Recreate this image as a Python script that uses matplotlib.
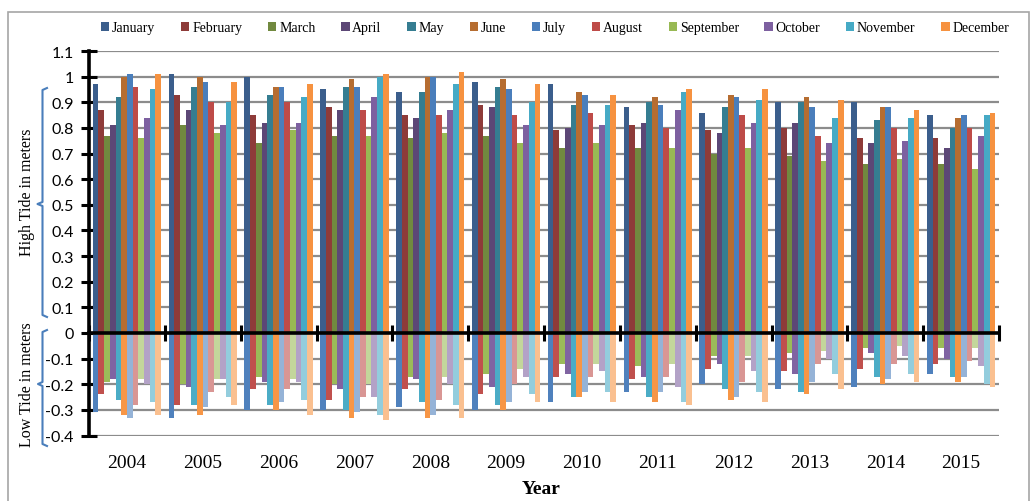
import matplotlib
matplotlib.use('Agg')
import matplotlib.pyplot as plt
import numpy as np
from matplotlib.patches import Patch, Rectangle
from matplotlib.lines import Line2D

years = [2004, 2005, 2006, 2007, 2008, 2009, 2010, 2011, 2012, 2013, 2014, 2015]
months = ['January', 'February', 'March', 'April', 'May', 'June', 'July',
          'August', 'September', 'October', 'November', 'December']

# rows = years, columns = months
high_tide = [
    [0.97, 0.87, 0.77, 0.81, 0.92, 1.00, 1.01, 0.96, 0.76, 0.84, 0.95, 1.01],
    [1.01, 0.93, 0.81, 0.87, 0.96, 1.00, 0.98, 0.90, 0.78, 0.81, 0.90, 0.98],
    [1.00, 0.85, 0.74, 0.82, 0.93, 0.96, 0.96, 0.90, 0.79, 0.82, 0.92, 0.97],
    [0.95, 0.88, 0.77, 0.87, 0.96, 0.99, 0.96, 0.87, 0.77, 0.92, 1.00, 1.01],
    [0.94, 0.85, 0.76, 0.84, 0.94, 1.00, 1.00, 0.85, 0.78, 0.87, 0.97, 1.02],
    [0.98, 0.89, 0.77, 0.88, 0.96, 0.99, 0.95, 0.85, 0.74, 0.81, 0.90, 0.97],
    [0.97, 0.79, 0.72, 0.80, 0.89, 0.94, 0.93, 0.86, 0.74, 0.81, 0.89, 0.93],
    [0.88, 0.81, 0.72, 0.82, 0.90, 0.92, 0.89, 0.80, 0.72, 0.87, 0.94, 0.95],
    [0.86, 0.79, 0.70, 0.78, 0.88, 0.93, 0.92, 0.85, 0.72, 0.82, 0.91, 0.95],
    [0.90, 0.80, 0.69, 0.82, 0.90, 0.92, 0.88, 0.77, 0.67, 0.74, 0.84, 0.91],
    [0.90, 0.76, 0.66, 0.74, 0.83, 0.88, 0.88, 0.80, 0.68, 0.75, 0.84, 0.87],
    [0.85, 0.76, 0.66, 0.72, 0.80, 0.84, 0.85, 0.80, 0.64, 0.77, 0.85, 0.86],
]
low_tide = [
    [-0.31, -0.24, -0.19, -0.18, -0.26, -0.32, -0.33, -0.28, -0.18, -0.20, -0.27, -0.32],
    [-0.33, -0.28, -0.20, -0.21, -0.28, -0.32, -0.29, -0.23, -0.18, -0.18, -0.25, -0.28],
    [-0.30, -0.22, -0.17, -0.19, -0.28, -0.30, -0.27, -0.22, -0.18, -0.19, -0.26, -0.32],
    [-0.30, -0.26, -0.20, -0.22, -0.30, -0.33, -0.31, -0.25, -0.20, -0.25, -0.32, -0.34],
    [-0.29, -0.22, -0.17, -0.18, -0.27, -0.33, -0.32, -0.26, -0.17, -0.20, -0.28, -0.33],
    [-0.30, -0.24, -0.16, -0.21, -0.28, -0.30, -0.27, -0.20, -0.14, -0.17, -0.24, -0.27],
    [-0.27, -0.17, -0.12, -0.16, -0.25, -0.25, -0.23, -0.17, -0.12, -0.15, -0.23, -0.27],
    [-0.23, -0.18, -0.13, -0.17, -0.25, -0.27, -0.23, -0.17, -0.12, -0.21, -0.27, -0.28],
    [-0.20, -0.14, -0.09, -0.12, -0.22, -0.26, -0.25, -0.19, -0.09, -0.15, -0.23, -0.27],
    [-0.22, -0.15, -0.08, -0.16, -0.23, -0.24, -0.19, -0.12, -0.07, -0.10, -0.16, -0.22],
    [-0.21, -0.14, -0.06, -0.08, -0.17, -0.20, -0.18, -0.12, -0.05, -0.09, -0.16, -0.19],
    [-0.16, -0.12, -0.06, -0.10, -0.17, -0.19, -0.17, -0.11, -0.06, -0.13, -0.20, -0.21],
]
yticks = [-0.4, -0.3, -0.2, -0.1, 0, 0.1, 0.2, 0.3, 0.4, 0.5, 0.6, 0.7, 0.8, 0.9, 1, 1.1]

high_colors = ['#3B5E8C', '#8E3B39', '#71893F', '#5C4776', '#357D91', '#B66D31',
               '#4A7EBB', '#BE4B48', '#98B954', '#7D60A0', '#46AAC5', '#F69240']
low_colors = ['#4F81BD', '#C0504D', '#9BBB59', '#8064A2', '#4BACC6', '#F79646',
              '#95B3D7', '#D99694', '#C3D69B', '#B3A2C7', '#93CDDD', '#FAC090']

plt.rcParams['axes.unicode_minus'] = False

W, H = 1030, 502
fig = plt.figure(figsize=(W / 100, H / 100), dpi=100)
ax = fig.add_axes([89 / W, 1 - 436.5 / H, 910 / W, 384.5 / H])

x = np.arange(len(years))
nm = len(months)
w = 0.9 / nm
for j in range(nm):
    hv = [row[j] for row in high_tide]
    lv = [row[j] for row in low_tide]
    pos = x + (j - (nm - 1) / 2) * w
    ax.bar(pos, hv, width=w, color=high_colors[j], linewidth=0, zorder=2)
    ax.bar(pos, lv, width=w, color=low_colors[j], linewidth=0, zorder=2)

ax.set_xlim(-0.5, len(years) - 0.5)
ax.set_ylim(-0.4, 1.1)
ax.set_yticks(yticks)
ax.set_yticklabels(['%g' % v for v in yticks], fontfamily='Lato', fontsize=11.5)
ax.tick_params(axis='y', direction='inout', length=12, width=2.2, pad=5, colors='black')
ax.yaxis.grid(True, color='#8c8c8c', linewidth=1.6)
ax.set_axisbelow(True)
for s in ['top', 'right', 'bottom']:
    ax.spines[s].set_visible(False)
ax.spines['left'].set_linewidth(2.6)
ax.spines['left'].set_color('black')
ax.spines['left'].set_zorder(6)

ax.set_xticks(x)
ax.set_xticklabels([str(y) for y in years], fontfamily='Liberation Serif', fontsize=14)
ax.tick_params(axis='x', length=0, pad=13)

# zero axis with category-boundary ticks
zero_loc = (0 - (-0.4)) / (1.1 - (-0.4))
secax = ax.secondary_xaxis(zero_loc)
secax.set_xticks(np.arange(-0.5, len(years), 1.0))
secax.set_xticklabels([])
secax.tick_params(axis='x', direction='inout', length=12, width=2.2, colors='black')
for s in ['top', 'bottom']:
    secax.spines[s].set_linewidth(2.6)
    secax.spines[s].set_color('black')
secax.set_zorder(7)

# legend
handles = [Patch(facecolor=c, edgecolor='none') for c in high_colors]
fig.legend(handles, months, loc='center', bbox_to_anchor=(555 / W, 1 - 28.5 / H), ncol=12,
           frameon=False, prop={'family': 'Liberation Serif', 'size': 10},
           handlelength=0.6, handleheight=0.6, handletextpad=0.2, columnspacing=1.85,
           borderaxespad=0, borderpad=0)

# axis titles
fig.text(27 / W, 1 - 192 / H, 'High Tide in meters', rotation=90, ha='center', va='center',
         family='Liberation Serif', fontsize=11.5)
fig.text(27 / W, 1 - 385 / H, 'Low Tide in meters', rotation=90, ha='center', va='center',
         family='Liberation Serif', fontsize=11.5)
fig.text(541 / W, 1 - 490 / H, 'Year', ha='center', va='center', fontweight='bold',
         family='Liberation Serif', fontsize=14)

# brackets
def bracket(top, mid, bottom, xv, xtip, xnub):
    pts_x = [xtip, xv, xv, xnub, xv, xv, xtip]
    pts_y = [top, top + 2, mid - 2, mid, mid + 2, bottom - 2, bottom]
    fig.add_artist(Line2D([p / W for p in pts_x], [1 - p / H for p in pts_y],
                          transform=fig.transFigure, color='#4A7EBB', linewidth=1.5))

bracket(89, 205, 318, 42.5, 47, 37.5)
bracket(331, 385, 447, 42.5, 47, 38)

# outer frame
fig.add_artist(Rectangle((8 / W, -0.01), (1029 - 8) / W, 1 - 13 / H + 0.01,
                         transform=fig.transFigure, fill=False, edgecolor='#a6a6a6',
                         linewidth=1.2))

fig.savefig('out.png', dpi=100)
